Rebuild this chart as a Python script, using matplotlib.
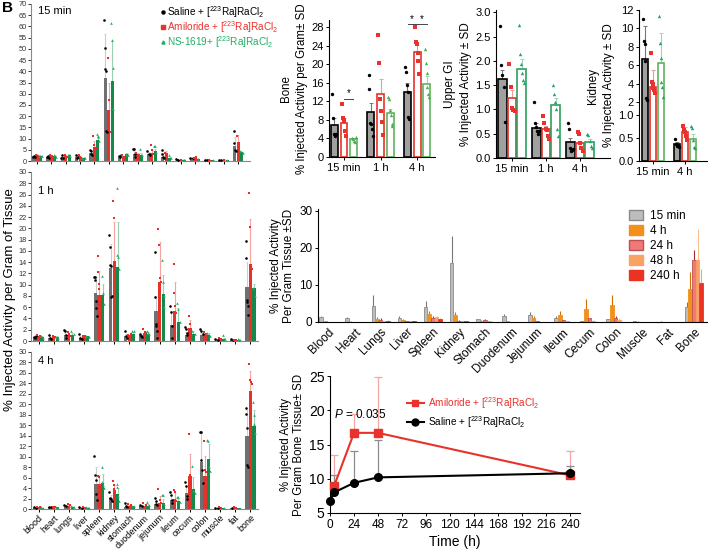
import numpy as np
import matplotlib
matplotlib.use('Agg')
import matplotlib.pyplot as plt
from matplotlib.patches import Patch

plt.rcParams['font.family'] = ['Liberation Sans', 'DejaVu Sans']
plt.rcParams['mathtext.fontset'] = 'custom'
plt.rcParams['mathtext.rm'] = 'Liberation Sans'
plt.rcParams['mathtext.it'] = 'Liberation Sans:italic'
plt.rcParams['axes.linewidth'] = 0.8
plt.rcParams['xtick.major.width'] = 0.7
plt.rcParams['ytick.major.width'] = 0.7

# ---------------- data: panel A (organ biodistribution, 3 treatments) ----------------
organs_a = ['blood', 'heart', 'lungs', 'liver', 'spleen', 'kidney', 'stomach', 'duodenum',
            'jejunum', 'ileum', 'cecum', 'colon', 'muscle', 'fat', 'bone']

m15_sal = [2.2, 2.0, 1.8, 2.0, 3.5, 36.8, 2.0, 3.0, 3.0, 2.0, 0.7, 1.3, 0.6, 0.5, 6.8]
m15_ami = [2.6, 2.5, 2.3, 1.8, 6.3, 22.8, 2.0, 3.0, 3.5, 3.5, 0.6, 1.5, 0.6, 0.6, 8.5]
m15_ns = [2.4, 2.2, 2.5, 1.5, 9.5, 35.7, 3.0, 2.5, 4.5, 1.5, 0.6, 1.0, 0.5, 0.4, 3.8]
e15_sal = [0.3, 0.3, 0.5, 0.5, 1.0, 20.0, 0.4, 1.5, 1.0, 1.5, 0.1, 0.2, 0.1, 0.1, 4.0]
e15_ami = [0.3, 0.3, 0.4, 0.5, 2.5, 12.0, 0.4, 0.5, 1.5, 0.8, 0.1, 0.3, 0.1, 0.1, 3.0]
e15_ns = [0.3, 0.4, 0.5, 0.3, 1.5, 18.0, 0.5, 1.0, 1.0, 0.5, 0.1, 0.2, 0.1, 0.1, 0.8]
p15_sal = [[2.0, 2.3, 1.8], [2.0, 2.4, 1.5], [1.5, 2.6, 1.2], [2.5, 1.5, 2.0], [5.0, 4.5, 3.0, 2.5],
           [63, 50.5, 41, 40, 13.5, 13], [2.2, 1.8, 2.5], [5.5, 5.5, 3.0, 2.0], [4.5, 3.0, 2.5],
           [5.0, 3.0, 2.0, 1.5], [0.8, 0.6], [1.5, 1.2], [0.6, 0.5], [0.5, 0.6], [13.5, 8.0, 5.0, 4.5]]
p15_ami = [[2.8, 2.4], [2.8, 2.2], [2.6, 1.8], [2.5, 1.6, 1.2], [11, 7, 6], [46, 27, 13], [2.5, 1.8],
           [3.5, 2.5], [7, 5, 3], [3.5, 2.5], [0.6], [1.5, 1.8], [0.6], [0.6], [11, 8]]
p15_ns = [[2.4, 2.1], [2.8, 1.8], [2.8, 2.2], [1.5, 1.2], [12, 11, 10.5, 9], [61.5, 54, 41.5, 23],
          [3.2, 2.8], [5.5, 2.5], [6.5, 6.5, 4], [2.5, 1.5], [0.6], [1.0], [0.5], [0.4], [4.5, 3.5]]

m1_sal = [0.7, 0.6, 1.0, 0.5, 8.6, 13.0, 0.8, 1.1, 5.4, 2.9, 1.0, 1.1, 0.3, 0.2, 9.6]
m1_ami = [0.8, 0.7, 1.0, 0.8, 8.2, 14.2, 1.0, 1.4, 10.5, 5.3, 2.3, 1.2, 0.4, 0.2, 13.6]
m1_ns = [0.7, 0.7, 1.1, 0.8, 8.1, 13.1, 1.3, 1.3, 8.4, 3.3, 1.3, 1.0, 0.3, 0.2, 9.4]
e1_sal = [0.1, 0.2, 0.5, 0.3, 2.8, 4.3, 0.4, 0.2, 2.5, 2.5, 0.6, 0.4, 0.1, 0.1, 4.5]
e1_ami = [0.1, 0.1, 0.3, 0.1, 4.2, 7.0, 0.1, 0.4, 7.1, 5.1, 1.5, 0.3, 0.1, 0.1, 8.0]
e1_ns = [0.1, 0.1, 0.4, 0.1, 2.0, 8.1, 0.3, 0.3, 3.4, 2.6, 0.4, 0.4, 0.3, 0.1, 0.8]
p1_sal = [[0.7, 0.6, 0.8], [1.0, 0.6, 0.4], [2.0, 1.7, 1.0, 0.6], [1.3, 0.5, 0.4],
          [11.4, 11.4, 10.8, 7.1, 5.8, 4.5], [18.9, 16.7, 13.5, 13.3, 7.8, 8.0], [1.8, 0.8, 0.6],
          [1.2, 0.9, 0.7], [15.8, 7.8, 3.0, 2.7, 1.8, 0.5], [6.2, 5.1, 2.6, 0.5], [2.5, 2.1, 1.5, 1.0],
          [2.2, 1.8, 1.3], [0.3, 0.2], [0.3, 0.1], [17.7, 14.7, 7.3, 7.0, 6.2, 4.6]]
p1_ami = [[1.0, 0.8], [0.9, 0.7], [1.6, 1.2, 0.8], [0.9, 0.8], [15.1, 12.2, 10.1, 9.2, 7.9, 6.4],
          [24.9, 21.8, 12.6], [1.1, 1.2], [2.2, 1.6, 1.4], [19.9, 17.0, 11.2, 10.5], [13.6, 8.6, 6.3, 5.0],
          [4.5, 3.0, 2.2, 1.3], [1.6, 1.3], [0.5, 0.3], [0.2, 0.1], [26.3, 20.2, 13.5, 12.7]]
p1_ns = [[0.8, 0.6], [0.7, 0.6], [1.8, 1.3], [0.8, 0.7], [11.6, 8.6, 6.5], [27.1, 15.3, 15.0, 12.8],
         [1.8, 1.7], [1.8, 1.5, 1.2], [14.4, 10.5, 8.0, 6.0], [6.7, 5.7, 3.3], [1.8, 1.3], [1.5, 0.9],
         [1.1, 0.3], [0.3, 0.2], [9.4, 8.0]]

m4_sal = [0.2, 0.3, 0.5, 0.2, 4.8, 2.1, 0.4, 0.5, 0.9, 1.8, 3.1, 8.9, 0.2, 0.1, 14.0]
m4_ami = [0.3, 0.4, 0.6, 0.3, 4.8, 3.6, 0.5, 0.6, 1.1, 2.0, 6.3, 6.4, 0.2, 0.1, 22.6]
m4_ns = [0.2, 0.3, 0.4, 0.2, 4.9, 2.8, 0.5, 0.6, 1.2, 1.5, 3.8, 9.6, 0.1, 0.1, 15.8]
e4_sal = [0.05, 0.1, 0.2, 0.1, 3.3, 0.6, 0.3, 0.2, 0.5, 0.8, 1.2, 5.7, 0.05, 0.05, 5.0]
e4_ami = [0.05, 0.1, 0.2, 0.1, 1.7, 1.0, 0.3, 0.3, 1.4, 1.0, 4.2, 3.8, 0.1, 0.1, 3.7]
e4_ns = [0.05, 0.1, 0.1, 0.1, 1.8, 1.2, 0.1, 0.3, 0.8, 0.5, 2.3, 2.9, 0.05, 0.05, 3.2]
p4_sal = [[0.3, 0.2], [0.4, 0.3], [0.8, 0.5], [0.3, 0.2], [10.1, 6.5, 5.6, 2.8, 1.8], [3.3, 2.1, 1.9, 1.6],
          [1.1, 0.6, 0.3], [0.8, 0.5], [2.1, 1.5, 1.0, 0.7], [3.2, 2.7, 1.8, 1.2], [5.2, 4.3, 2.4, 2.0],
          [14.7, 14.7, 9.3, 7.5, 5.0], [0.2, 0.1], [0.1], [19.3, 18.2, 15.5, 8.5, 8.1]]
p4_ami = [[0.4, 0.3], [0.4, 0.3], [0.9, 0.7], [0.4, 0.2], [6.4, 6.1, 4.2, 4.0], [5.3, 4.5, 3.8, 3.0, 2.5],
          [1.0, 0.7], [1.1, 0.8], [3.8, 1.8, 1.2], [3.6, 3.3, 1.5], [14.3, 6.5, 6.0], [12.9, 7.5, 7.0],
          [0.3, 0.2], [0.3, 0.1], [27.8, 24.7, 24.3, 23.8]]
p4_ns = [[0.3, 0.2], [0.3, 0.2], [0.5, 0.4], [0.3, 0.2], [8.1, 5.1, 4.6, 4.1], [4.8, 4.2, 2.4, 1.5],
         [0.6, 0.5], [1.3, 0.7], [2.6, 2.6, 1.0], [2.3, 2.2, 1.3], [8.2, 3.5, 3.0], [13.2, 13.0, 8.0, 7.3],
         [0.1], [0.0], [20.5, 18.0, 16.2, 14.5]]

# ---------------- data: small panels ----------------
times_b = ['15 min', '1 h', '4 h']
bone_sal = [6.8, 9.6, 14.0]
bone_ami = [7.4, 13.6, 22.6]
bone_ns = [3.8, 9.4, 15.8]
bone_esal = [1.5, 2.1, 2.0]
bone_eami = [1.0, 3.2, 1.5]
bone_ens = [0.3, 1.0, 1.6]
bone_psal = [[13.6, 8.3, 5.0, 4.6, 4.8, 5.0], [17.6, 14.7, 7.4, 7.0, 6.0, 4.6], [19.3, 18.2, 15.6, 14.0, 8.6, 8.2]]
bone_pami = [[11.5, 8.3, 8.0, 7.8, 5.5, 4.5], [26.2, 20.3, 12.5, 10.0, 7.6, 4.7], [28.0, 24.7, 24.3, 22.3, 20.6, 17.8]]
bone_pns = [[4.0, 3.9, 3.5, 3.2, 4.3], [13.0, 12.5, 10.1, 9.0, 7.2, 6.7], [23.3, 20.2, 18.1, 15.0, 13.6, 13.0]]

gi_sal = [1.62, 0.62, 0.32]
gi_ami = [1.24, 0.59, 0.30]
gi_ns = [1.83, 1.09, 0.34]
gi_esal = [0.20, 0.10, 0.10]
gi_eami = [0.17, 0.07, 0.06]
gi_ens = [0.20, 0.15, 0.05]
gi_psal = [[2.71, 1.92, 1.72, 1.47, 0.74], [1.16, 0.73, 0.63, 0.55, 0.50, 0.55], [0.73, 0.59, 0.20, 0.15, 0.16, 0.18]]
gi_pami = [[1.93, 1.47, 1.04, 0.98, 0.96], [0.87, 0.72, 0.60, 0.57, 0.45, 0.40], [0.53, 0.50, 0.30, 0.20, 0.15]]
gi_pns = [[2.74, 2.15, 1.93, 1.75, 1.60, 1.55], [1.50, 1.31, 1.15, 1.02, 0.60, 0.45], [0.50, 0.47, 0.35, 0.25, 0.20]]

times_k = ['15 min', '4 h']
kid_sal = [6.7, 0.38]
kid_ami = [3.6, 0.62]
kid_ns = [6.2, 0.47]
kid_esal = [3.6, 0.03]
kid_eami = [1.9, 0.12]
kid_ens = [3.3, 0.11]
kid_psal = [[11.0, 8.6, 8.3, 6.5, 2.4, 2.2], [0.47, 0.38, 0.35, 0.33, 0.32, 0.30]]
kid_pami = [[7.3, 4.2, 4.0, 3.5, 3.3, 3.0], [0.75, 0.67, 0.63, 0.55, 0.45]]
kid_pns = [[11.4, 8.4, 6.8, 4.2, 3.6, 2.5], [0.76, 0.72, 0.45, 0.30, 0.28]]

# ---------------- data: panel C (time course, 5 time points) ----------------
organs_c = ['Blood', 'Heart', 'Lungs', 'Liver', 'Spleen', 'Kidney', 'Stomach', 'Duodenum',
            'Jejunum', 'Ileum', 'Cecum', 'Colon', 'Muscle', 'Fat', 'Bone']
tp_labels = ['15 min', '4 h', '24 h', '48 h', '240 h']
c15 = [1.3, 1.2, 4.3, 1.2, 4.0, 15.8, 0.7, 1.7, 1.9, 1.1, 0.2, 0.7, 0.3, 0.1, 4.1]
c4 = [0.2, 0.1, 0.8, 0.6, 2.1, 2.0, 0.4, 0.3, 1.2, 1.8, 3.4, 4.6, 0.1, 0.0, 8.9]
c24 = [0.05, 0.05, 0.5, 0.3, 1.2, 0.4, 0.5, 0.1, 0.3, 0.5, 1.0, 1.2, 0.1, 0.0, 16.8]
c48 = [0.05, 0.05, 0.3, 0.3, 1.4, 0.3, 0.3, 0.1, 0.1, 0.2, 0.4, 0.6, 0.1, 0.0, 16.8]
c240 = [0.0, 0.0, 0.4, 0.2, 0.8, 0.2, 0.1, 0.0, 0.0, 0.1, 0.1, 0.1, 0.0, 0.0, 10.6]
ce15 = [0.2, 0.2, 3.0, 0.4, 1.6, 7.3, 0.1, 0.5, 0.8, 0.5, 0.1, 0.1, 0.1, 0.05, 1.3]
ce4 = [0.1, 0.05, 0.6, 0.3, 0.8, 0.8, 0.2, 0.1, 0.4, 1.2, 2.9, 2.7, 0.05, 0.0, 4.5]
ce24 = [0.0, 0.0, 0.6, 0.1, 0.3, 0.1, 0.2, 0.0, 0.1, 0.1, 0.2, 0.3, 0.0, 0.0, 2.7]
ce48 = [0.0, 0.0, 0.1, 0.1, 0.3, 0.1, 0.1, 0.0, 0.0, 0.1, 0.2, 0.5, 0.0, 0.0, 8.3]
ce240 = [0.0, 0.0, 0.1, 0.1, 0.2, 0.0, 0.0, 0.0, 0.0, 0.0, 0.0, 0.0, 0.0, 0.0, 3.6]

# ---------------- data: line chart (bone uptake over time) ----------------
t_ami = [4, 24, 48, 240]
y_ami = [8.9, 16.7, 16.7, 10.5]
err_ami = [4.5, 2.8, 8.2, 3.6]
t_sal = [0.25, 4, 24, 48, 240]
y_sal = [6.8, 8.0, 9.4, 10.2, 10.8]
err_sal = [0.0, 2.5, 4.7, 5.5, 1.1]

# ---------------- figure ----------------
W, H = 708, 552
fig = plt.figure(figsize=(W / 100, H / 100), dpi=100)


def axpx(x0, y0, x1, y1):
    return fig.add_axes([x0 / W, 1 - y1 / H, (x1 - x0) / W, (y1 - y0) / H])


def clean(ax):
    ax.spines['top'].set_visible(False)
    ax.spines['right'].set_visible(False)


RED = '#e8322b'
GRN = '#14894a'


def panelA(ax, means, errs, pts, ylim, yticks, xlim, label, show_x):
    x = np.arange(len(organs_a))
    w = 0.22
    cols = ['#707070', '#e5322a', '#14894a']
    ecols = ['#cdcdcd', '#f5a3a3', '#98d2b0']
    pcols = ['black', '#ef2a24', '#22ad63']
    mks = ['o', 's', '^']
    for k in range(3):
        xx = x + (k - 1) * w * 1.08
        ax.errorbar(xx, means[k], yerr=[np.zeros(len(x)), errs[k]], fmt='none', ecolor=ecols[k],
                    elinewidth=0.8, capsize=1.0, capthick=0.6, zorder=1)
        ax.bar(xx, means[k], w, color=cols[k], zorder=2)
        for i, p in enumerate(pts[k]):
            n = len(p)
            off = np.linspace(-w * 0.35, w * 0.35, n) if n > 1 else np.array([0.0])
            ax.scatter(xx[i] + off, p, s=3.5, color=pcols[k], marker=mks[k], zorder=3, linewidths=0)
    ax.set_xlim(*xlim)
    ax.set_ylim(*ylim)
    ax.set_yticks(yticks)
    ax.tick_params(axis='y', labelsize=5.3, length=2, pad=1, colors='#333333')
    ax.set_xticks(x)
    if show_x:
        ax.set_xticklabels(organs_a, rotation=45, ha='right', rotation_mode='anchor', fontsize=6.5)
        ax.tick_params(axis='x', length=2, pad=1)
    else:
        ax.set_xticklabels([])
        ax.tick_params(axis='x', length=2)
    clean(ax)
    ax.spines['left'].set_color('#888888')
    ax.spines['bottom'].set_color('#888888')
    ax.text(0.03, 0.985, label, transform=ax.transAxes, fontsize=8, va='top', ha='left')


ax1 = axpx(31, 4, 250, 161)
panelA(ax1, [m15_sal, m15_ami, m15_ns], [e15_sal, e15_ami, e15_ns], [p15_sal, p15_ami, p15_ns],
       (0, 70), np.arange(0, 71, 5), (-0.42, 14.83), '15 min', False)
ax2 = axpx(31, 172, 258, 341)
panelA(ax2, [m1_sal, m1_ami, m1_ns], [e1_sal, e1_ami, e1_ns], [p1_sal, p1_ami, p1_ns],
       (0, 30), np.arange(0, 31, 2), (-0.5, 14.5), '1 h', False)
ax2.texts[0].set_position((0.03, 0.92))
ax3 = axpx(31, 352, 258, 509)
panelA(ax3, [m4_sal, m4_ami, m4_ns], [e4_sal, e4_ami, e4_ns], [p4_sal, p4_ami, p4_ns],
       (0, 30), np.arange(0, 31, 2), (-0.5, 14.5), '4 h', True)
ax3.texts[0].set_position((0.03, 0.975))

fig.text(10 / W, 1 - 300 / H, '% Injected Activity per Gram of Tissue', rotation=90,
         ha='center', va='center', fontsize=9.5)
fig.text(2 / W, 1 - 1 / H, 'B', fontsize=11, fontweight='bold', va='top', ha='left')

# legend of panel A
leg_items = [('Saline + [$^{223}$Ra]RaCl$_2$', 'black', 'o'),
             ('Amiloride + [$^{223}$Ra]RaCl$_2$', RED, 's'),
             ('NS-1619+ [$^{223}$Ra]RaCl$_2$', '#22ad63', '^')]
for i, (txt, c, m) in enumerate(leg_items):
    yy = 1 - (12 + i * 15) / H
    fig.text(167 / W, yy, txt, color=c, fontsize=7.2, va='center', ha='left')
    fig.lines.append(plt.Line2D([163 / W], [yy], marker=m, markersize=2.2, color=c,
                                transform=fig.transFigure, linestyle='none'))


def small_panel(ax, sal, ami, ns, esal, eami, ens, psal, pami, pns, w, d, gcol, ncol):
    x = np.arange(len(sal))
    specs = [(sal, esal, psal, '#a0a0a0', 'black', 'black', 'o', '#777777'),
             (ami, eami, pami, 'white', RED, RED, 's', '#f19a9a'),
             (ns, ens, pns, 'white', ncol, gcol, '^', '#9fd6b4')]
    for k, (m, e, p, fc, ec, pc, mk, erc) in enumerate(specs):
        xx = x + (k - 1) * d
        ax.errorbar(xx, m, yerr=[np.zeros(len(x)), e], fmt='none', ecolor=erc, elinewidth=0.8,
                    capsize=1.5, capthick=0.7, zorder=1)
        ax.bar(xx, m, w, facecolor=fc, edgecolor=ec, linewidth=1.2, zorder=2)
        for i, pp in enumerate(p):
            n = len(pp)
            off = np.linspace(-w * 0.3, w * 0.3, n)
            ax.scatter(xx[i] + off, pp, s=6, color=pc, marker=mk, zorder=3, linewidths=0, clip_on=False)
    clean(ax)
    ax.tick_params(labelsize=8, length=2.5, pad=1.5)


# Bone panel
axb = axpx(329, 20, 435, 157)
small_panel(axb, bone_sal, bone_ami, bone_ns, bone_esal, bone_eami, bone_ens,
            bone_psal, bone_pami, bone_pns, 0.19, 0.27, '#4caf50', '#5fb35f')
axb.set_xlim(-0.41, 2.49)
axb.set_ylim(0, 29.5)
axb.set_yticks(np.arange(0, 29, 4))
axb.set_xticks(np.arange(3))
axb.set_xticklabels(times_b)
axb.set_ylabel('Bone\n% Injected Activity per Gram± SD', fontsize=8.3, labelpad=2, linespacing=1.5)
# significance brackets
sig = [(0, 1, 2, 12.5), (2, 0, 1, 28.6), (2, 1, 2, 28.6)]
for g, a, b, yv in sig:
    xa = g + (a - 1) * 0.27 - 0.02
    xb = g + (b - 1) * 0.27 + 0.02
    axb.plot([xa + 0.03, xb - 0.03], [yv, yv], color='#444444', lw=0.7, clip_on=False)
    axb.text((xa + xb) / 2, yv + 0.1, '*', ha='center', va='bottom', fontsize=7, clip_on=False)

# Upper GI panel
axg = axpx(496, 10, 610, 158)
small_panel(axg, gi_sal, gi_ami, gi_ns, gi_esal, gi_eami, gi_ens,
            gi_psal, gi_pami, gi_pns, 0.25, 0.285, '#1fa463', '#2e9e5e')
axg.set_xlim(-0.47, 2.88)
axg.set_ylim(0, 3.05)
axg.set_yticks(np.arange(0, 3.01, 0.5))
axg.set_yticklabels(['%.1f' % v for v in np.arange(0, 3.01, 0.5)])
axg.set_xticks(np.arange(3))
axg.set_xticklabels(times_b)
axg.set_ylabel('Upper GI\n% Injected Activity ± SD', fontsize=8.5, labelpad=2, linespacing=1.5)


# Kidney panel (broken scale)
def kfwd(y):
    y = np.asarray(y, float)
    return np.where(y <= 1, y, np.where(y <= 2, 1 + (y - 1) * 0.28, 1.28 + (y - 2) * 0.2))


def kinv(t):
    t = np.asarray(t, float)
    return np.where(t <= 1, t, np.where(t <= 1.28, 1 + (t - 1) / 0.28, 2 + (t - 1.28) / 0.2))


axk = axpx(639, 10, 707, 161)
axk.set_yscale('function', functions=(kfwd, kinv))
small_panel(axk, kid_sal, kid_ami, kid_ns, kid_esal, kid_eami, kid_ens,
            kid_psal, kid_pami, kid_pns, 0.21, 0.25, '#1fa463', '#5fb35f')
axk.set_xlim(-0.44, 1.69)
axk.set_ylim(0, 12)
kt = [0, 0.5, 1.0, 2, 4, 6, 8, 10, 12]
axk.set_yticks(kt)
axk.set_yticklabels(['0.0', '0.5', '1.0', '2', '4', '6', '8', '10', '12'])
axk.yaxis.set_minor_locator(matplotlib.ticker.NullLocator())
axk.set_xticks(np.arange(2))
axk.set_xticklabels(times_k)
axk.set_ylabel('Kidney\n% Injected Activity ± SD', fontsize=8.5, labelpad=2, linespacing=1.5)

# Panel C: time course bars
axc = axpx(318, 209, 707, 322)
xc = np.arange(len(organs_c))
wc = 0.14
c_vals = [c15, c4, c24, c48, c240]
c_errs = [ce15, ce4, ce24, ce48, ce240]
c_face = ['#bdbdbd', '#f39019', '#f07a7a', '#f8a264', '#ea3323']
c_edge = ['#8a8a8a', '#f39019', '#c0504d', '#f8a264', '#ea3323']
c_ecol = ['#777777', '#d07000', '#a03030', '#fbc08e', '#f59a9a']
for k in range(5):
    xx = xc + (k - 2) * wc
    axc.errorbar(xx, c_vals[k], yerr=[np.zeros(len(xc)), c_errs[k]], fmt='none', ecolor=c_ecol[k],
                 elinewidth=0.8, capsize=0, zorder=1)
    axc.bar(xx, c_vals[k], wc, facecolor=c_face[k], edgecolor=c_edge[k], linewidth=0.6, zorder=2)
axc.set_xlim(-0.4, 14.5)
axc.set_ylim(0, 30.5)
axc.set_yticks([0, 10, 20, 30])
axc.set_xticks(xc)
axc.set_xticklabels(organs_c, rotation=45, ha='right', rotation_mode='anchor', fontsize=7.5)
axc.tick_params(labelsize=8.5, length=2.5, pad=1.5)
axc.tick_params(axis='x', length=0, pad=3)
clean(axc)
axc.set_ylabel('% Injected Activity\nPer Gram Tissue ±SD', fontsize=8.5, labelpad=3, linespacing=1.1)
handles = [Patch(facecolor=c_face[k], edgecolor=c_edge[k], label=tp_labels[k]) for k in range(5)]
axc.legend(handles=handles, loc='upper left', bbox_to_anchor=((624 - 318) / 389, 1.03), frameon=False,
           fontsize=8.5, handlelength=1.2, handleheight=0.9, labelspacing=0.25, handletextpad=0.6,
           borderaxespad=0)

# Line chart
axl = axpx(330, 376, 580, 513)
axl.errorbar(t_ami, y_ami, yerr=[np.zeros(len(t_ami)), err_ami], fmt='none', ecolor='#f4a6a6',
             elinewidth=0.9, capsize=3, capthick=0.9, zorder=1)
axl.errorbar(t_sal, y_sal, yerr=[np.zeros(len(t_sal)), err_sal], fmt='none', ecolor='#8c8c8c',
             elinewidth=0.9, capsize=3, capthick=0.9, zorder=1)
axl.plot(t_ami, y_ami, color=RED, marker='s', markersize=5.5, lw=1.5, zorder=3, clip_on=False)
axl.plot(t_sal, y_sal, color='black', marker='o', markersize=5.5, lw=1.5, zorder=4, clip_on=False)
axl.set_xlim(0, 250)
axl.set_ylim(5, 25)
axl.set_xticks(np.arange(0, 241, 24))
axl.set_yticks([5, 10, 15, 20, 25])
axl.tick_params(axis='x', labelsize=8.5, length=2.5, pad=1.5)
axl.tick_params(axis='y', labelsize=10, length=2.5, pad=1.5)
clean(axl)
axl.set_xlabel('Time (h)', fontsize=10, labelpad=3)
axl.set_ylabel('% Injected Activity\nPer Gram Bone Tissue± SD', fontsize=8.3, labelpad=3, linespacing=1.1)
axl.text(0.018, 0.72, '$P$ = 0.035', transform=axl.transAxes, fontsize=8.5, va='center')
for yy, c, m, txt in [(403, RED, 's', 'Amiloride + [$^{223}$Ra]RaCl$_2$'),
                      (422, 'black', 'o', 'Saline + [$^{223}$Ra]RaCl$_2$')]:
    ay = (513 - yy) / 137
    axl.plot([(407 - 330) / 250, (424 - 330) / 250], [ay, ay], color=c, lw=1.5,
             transform=axl.transAxes, clip_on=False)
    axl.plot([(415 - 330) / 250], [ay], color=c, marker=m, markersize=5, transform=axl.transAxes,
             clip_on=False)
    axl.text((428 - 330) / 250, ay, txt, color=c, fontsize=7.2, va='center', transform=axl.transAxes)

fig.savefig('out.png', dpi=100)
